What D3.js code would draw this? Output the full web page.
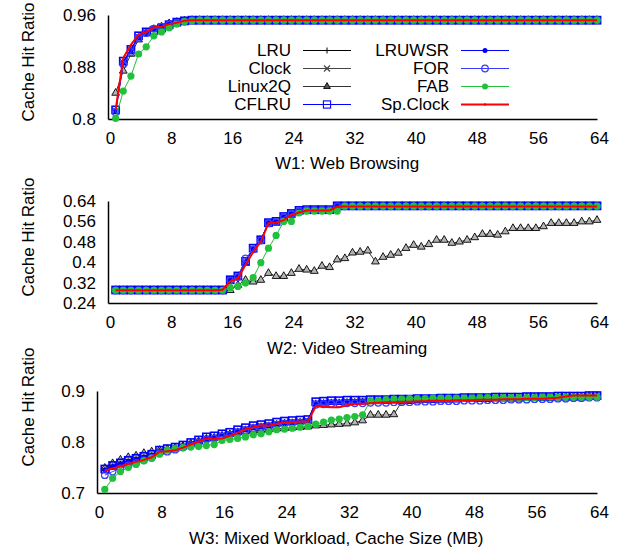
<!DOCTYPE html>
<html>
<head>
<meta charset="utf-8">
<script src="https://cdn.jsdelivr.net/npm/d3@7"></script>
<style>
  body { margin: 0; background: #fff; }
  text { font-family: "Liberation Sans", Arial, sans-serif; font-size: 17px; fill: #000; }
</style>
</head>
<body>
<div id="chart"></div>
<script>
// cache sizes (MB) on the x axis
const cacheSizes = [1,2,3,4,5,6,7,8,9,10,11,12,13,14,15,16,17,18,19,20,21,22,23,24,25,26,27,28,29,30,31,32,
  33,34,35,36,37,38,39,40,41,42,43,44,45,46,47,48,49,50,51,52,53,54,55,56,57,58,59,60,61,62,63,64];
const xTicks = [0, 8, 16, 24, 32, 40, 48, 56, 64];
const seriesNames = ["LRU", "Clock", "Linux2Q", "CFLRU", "LRUWSR", "FOR", "FAB", "Sp.Clock"];

// W1: Web Browsing
const w1Ticks = [0.8, 0.88, 0.96];
const w1LRU = [0.813,0.888,0.906,0.927,0.934,0.940,0.943,0.946,0.949,0.951,0.952,0.952,0.952,0.952,0.952,0.952,
  0.952,0.952,0.952,0.952,0.952,0.952,0.952,0.952,0.952,0.952,0.952,0.952,0.952,0.952,0.952,0.952,
  0.952,0.952,0.952,0.952,0.952,0.952,0.952,0.952,0.952,0.952,0.952,0.952,0.952,0.952,0.952,0.952,
  0.952,0.952,0.952,0.952,0.952,0.952,0.952,0.952,0.952,0.952,0.952,0.952,0.952,0.952,0.952,0.952];
const w1Clock = [0.812,0.887,0.905,0.926,0.933,0.939,0.943,0.946,0.949,0.951,0.952,0.952,0.952,0.952,0.952,0.952,
  0.952,0.952,0.952,0.952,0.952,0.952,0.952,0.952,0.952,0.952,0.952,0.952,0.952,0.952,0.952,0.952,
  0.952,0.952,0.952,0.952,0.952,0.952,0.952,0.952,0.952,0.952,0.952,0.952,0.952,0.952,0.952,0.952,
  0.952,0.952,0.952,0.952,0.952,0.952,0.952,0.952,0.952,0.952,0.952,0.952,0.952,0.952,0.952,0.952];
const w1Linux2Q = [0.840,0.874,0.900,0.922,0.932,0.938,0.942,0.947,0.949,0.951,0.952,0.952,0.952,0.952,0.952,0.952,
  0.952,0.952,0.952,0.952,0.952,0.952,0.952,0.952,0.952,0.952,0.952,0.952,0.952,0.952,0.952,0.952,
  0.952,0.952,0.952,0.952,0.952,0.952,0.952,0.952,0.952,0.952,0.952,0.952,0.952,0.952,0.952,0.952,
  0.952,0.952,0.952,0.952,0.952,0.952,0.952,0.952,0.952,0.952,0.952,0.952,0.952,0.952,0.952,0.952];
const w1CFLRU = [0.814,0.889,0.907,0.928,0.934,0.936,0.940,0.945,0.949,0.951,0.952,0.952,0.952,0.952,0.952,0.952,
  0.952,0.952,0.952,0.952,0.952,0.952,0.952,0.952,0.952,0.952,0.952,0.952,0.952,0.952,0.952,0.952,
  0.952,0.952,0.952,0.952,0.952,0.952,0.952,0.952,0.952,0.952,0.952,0.952,0.952,0.952,0.952,0.952,
  0.952,0.952,0.952,0.952,0.952,0.952,0.952,0.952,0.952,0.952,0.952,0.952,0.952,0.952,0.952,0.952];
const w1LRUWSR = [0.813,0.887,0.906,0.927,0.934,0.940,0.943,0.946,0.949,0.951,0.952,0.952,0.952,0.952,0.952,0.952,
  0.952,0.952,0.952,0.952,0.952,0.952,0.952,0.952,0.952,0.952,0.952,0.952,0.952,0.952,0.952,0.952,
  0.952,0.952,0.952,0.952,0.952,0.952,0.952,0.952,0.952,0.952,0.952,0.952,0.952,0.952,0.952,0.952,
  0.952,0.952,0.952,0.952,0.952,0.952,0.952,0.952,0.952,0.952,0.952,0.952,0.952,0.952,0.952,0.952];
const w1FOR = [0.810,0.884,0.903,0.925,0.932,0.939,0.942,0.945,0.948,0.950,0.952,0.952,0.952,0.952,0.952,0.952,
  0.952,0.952,0.952,0.952,0.952,0.952,0.952,0.952,0.952,0.952,0.952,0.952,0.952,0.952,0.952,0.952,
  0.952,0.952,0.952,0.952,0.952,0.952,0.952,0.952,0.952,0.952,0.952,0.952,0.952,0.952,0.952,0.952,
  0.952,0.952,0.952,0.952,0.952,0.952,0.952,0.952,0.952,0.952,0.952,0.952,0.952,0.952,0.952,0.952];
const w1FAB = [0.801,0.843,0.866,0.900,0.911,0.928,0.934,0.940,0.946,0.950,0.951,0.952,0.952,0.952,0.952,0.952,
  0.952,0.952,0.952,0.952,0.952,0.952,0.952,0.952,0.952,0.952,0.952,0.952,0.952,0.952,0.952,0.952,
  0.952,0.952,0.952,0.952,0.952,0.952,0.952,0.952,0.952,0.952,0.952,0.952,0.952,0.952,0.952,0.952,
  0.952,0.952,0.952,0.952,0.952,0.952,0.952,0.952,0.952,0.952,0.952,0.952,0.952,0.952,0.952,0.952];
const w1SpClock = [0.814,0.894,0.914,0.930,0.934,0.941,0.942,0.946,0.948,0.951,0.952,0.952,0.952,0.952,0.952,0.952,
  0.952,0.952,0.952,0.952,0.952,0.952,0.952,0.952,0.952,0.952,0.952,0.952,0.952,0.952,0.952,0.952,
  0.952,0.952,0.952,0.952,0.952,0.952,0.952,0.952,0.952,0.952,0.952,0.952,0.952,0.952,0.952,0.952,
  0.952,0.952,0.952,0.952,0.952,0.952,0.952,0.952,0.952,0.952,0.952,0.952,0.952,0.952,0.952,0.952];

// W2: Video Streaming
const w2Ticks = [0.24, 0.32, 0.4, 0.48, 0.56, 0.64];
const w2LRU = [0.290,0.290,0.290,0.290,0.290,0.290,0.290,0.290,0.290,0.290,0.290,0.290,0.290,0.290,0.290,0.330,
  0.344,0.402,0.454,0.487,0.554,0.559,0.578,0.590,0.602,0.605,0.605,0.605,0.605,0.620,0.620,0.620,
  0.620,0.620,0.620,0.620,0.620,0.620,0.620,0.620,0.620,0.620,0.620,0.620,0.620,0.620,0.620,0.620,
  0.620,0.620,0.620,0.620,0.620,0.620,0.620,0.620,0.620,0.620,0.620,0.620,0.620,0.620,0.620,0.620];
const w2Clock = [0.290,0.290,0.290,0.290,0.290,0.290,0.290,0.290,0.290,0.290,0.290,0.290,0.290,0.290,0.290,0.329,
  0.343,0.400,0.452,0.486,0.553,0.558,0.577,0.590,0.601,0.605,0.605,0.605,0.605,0.620,0.620,0.620,
  0.620,0.620,0.620,0.620,0.620,0.620,0.620,0.620,0.620,0.620,0.620,0.620,0.620,0.620,0.620,0.620,
  0.620,0.620,0.620,0.620,0.620,0.620,0.620,0.620,0.620,0.620,0.620,0.620,0.620,0.620,0.620,0.620];
const w2Linux2Q = [0.290,0.290,0.290,0.290,0.290,0.290,0.290,0.290,0.290,0.290,0.290,0.290,0.290,0.290,0.290,0.290,
  0.310,0.330,0.323,0.330,0.357,0.345,0.345,0.357,0.373,0.370,0.365,0.385,0.380,0.410,0.415,0.437,
  0.440,0.445,0.402,0.420,0.428,0.436,0.455,0.467,0.460,0.470,0.487,0.487,0.475,0.480,0.487,0.497,
  0.510,0.510,0.507,0.520,0.533,0.533,0.533,0.533,0.540,0.553,0.553,0.553,0.553,0.559,0.559,0.565];
const w2CFLRU = [0.291,0.291,0.291,0.291,0.291,0.291,0.291,0.291,0.291,0.291,0.291,0.291,0.291,0.291,0.291,0.331,
  0.346,0.403,0.455,0.488,0.555,0.560,0.579,0.591,0.603,0.606,0.606,0.606,0.606,0.621,0.621,0.621,
  0.621,0.621,0.621,0.621,0.621,0.621,0.621,0.621,0.621,0.621,0.621,0.621,0.621,0.621,0.621,0.621,
  0.621,0.621,0.621,0.621,0.621,0.621,0.621,0.621,0.621,0.621,0.621,0.621,0.621,0.621,0.621,0.621];
const w2LRUWSR = [0.290,0.290,0.290,0.290,0.290,0.290,0.290,0.290,0.290,0.290,0.290,0.290,0.290,0.290,0.290,0.330,
  0.344,0.401,0.453,0.487,0.554,0.559,0.578,0.590,0.602,0.605,0.605,0.605,0.605,0.620,0.620,0.620,
  0.620,0.620,0.620,0.620,0.620,0.620,0.620,0.620,0.620,0.620,0.620,0.620,0.620,0.620,0.620,0.620,
  0.620,0.620,0.620,0.620,0.620,0.620,0.620,0.620,0.620,0.620,0.620,0.620,0.620,0.620,0.620,0.620];
const w2FOR = [0.289,0.289,0.289,0.289,0.289,0.289,0.289,0.289,0.289,0.289,0.289,0.289,0.289,0.289,0.289,0.328,
  0.342,0.415,0.450,0.485,0.552,0.557,0.576,0.589,0.600,0.604,0.604,0.604,0.604,0.619,0.619,0.619,
  0.619,0.619,0.619,0.619,0.619,0.619,0.619,0.619,0.619,0.619,0.619,0.619,0.619,0.619,0.619,0.619,
  0.619,0.619,0.619,0.619,0.619,0.619,0.619,0.619,0.619,0.619,0.619,0.619,0.619,0.619,0.619,0.619];
const w2FAB = [0.290,0.290,0.290,0.290,0.290,0.290,0.290,0.290,0.290,0.290,0.290,0.290,0.290,0.290,0.290,0.300,
  0.305,0.318,0.340,0.398,0.455,0.505,0.560,0.560,0.593,0.600,0.600,0.600,0.600,0.600,0.620,0.620,
  0.620,0.620,0.620,0.620,0.620,0.620,0.620,0.620,0.620,0.620,0.620,0.620,0.620,0.620,0.620,0.620,
  0.620,0.620,0.620,0.620,0.620,0.620,0.620,0.620,0.620,0.620,0.620,0.620,0.620,0.620,0.620,0.620];
const w2SpClock = [0.290,0.290,0.290,0.290,0.290,0.290,0.290,0.290,0.290,0.290,0.290,0.290,0.290,0.290,0.292,0.325,
  0.335,0.390,0.440,0.480,0.553,0.555,0.565,0.585,0.595,0.603,0.603,0.603,0.603,0.618,0.618,0.618,
  0.618,0.618,0.618,0.618,0.618,0.618,0.618,0.618,0.618,0.618,0.618,0.618,0.618,0.618,0.618,0.618,
  0.618,0.618,0.618,0.618,0.618,0.618,0.618,0.618,0.618,0.618,0.618,0.618,0.618,0.618,0.618,0.618];

// W3: Mixed Workload
const w3Ticks = [0.7, 0.8, 0.9];
const w3LRU = [0.745,0.752,0.757,0.762,0.766,0.770,0.774,0.782,0.785,0.788,0.792,0.797,0.802,0.808,0.810,0.814,
  0.817,0.822,0.826,0.830,0.832,0.834,0.837,0.839,0.840,0.841,0.842,0.877,0.878,0.879,0.879,0.880,
  0.880,0.881,0.881,0.882,0.882,0.882,0.883,0.883,0.883,0.884,0.884,0.884,0.885,0.885,0.885,0.886,
  0.886,0.886,0.887,0.887,0.887,0.887,0.888,0.888,0.888,0.888,0.889,0.889,0.889,0.889,0.890,0.890];
const w3Clock = [0.744,0.751,0.756,0.761,0.765,0.769,0.773,0.781,0.784,0.787,0.791,0.796,0.801,0.807,0.809,0.813,
  0.816,0.821,0.825,0.829,0.831,0.833,0.836,0.838,0.839,0.840,0.841,0.876,0.877,0.878,0.878,0.879,
  0.879,0.880,0.880,0.881,0.881,0.881,0.882,0.882,0.882,0.883,0.883,0.883,0.884,0.884,0.884,0.885,
  0.885,0.885,0.886,0.886,0.886,0.886,0.887,0.887,0.887,0.887,0.888,0.888,0.888,0.888,0.889,0.889];
const w3Linux2Q = [0.749,0.758,0.765,0.770,0.773,0.778,0.781,0.784,0.786,0.789,0.792,0.797,0.801,0.806,0.808,0.812,
  0.815,0.818,0.820,0.822,0.823,0.825,0.826,0.827,0.828,0.829,0.830,0.832,0.833,0.834,0.835,0.836,
  0.838,0.842,0.853,0.853,0.853,0.854,0.879,0.880,0.881,0.882,0.882,0.883,0.883,0.884,0.884,0.885,
  0.885,0.885,0.886,0.886,0.886,0.887,0.887,0.887,0.888,0.888,0.888,0.889,0.889,0.889,0.890,0.890];
const w3CFLRU = [0.747,0.754,0.759,0.764,0.768,0.772,0.776,0.784,0.787,0.790,0.794,0.799,0.804,0.810,0.812,0.816,
  0.819,0.824,0.828,0.832,0.834,0.836,0.839,0.841,0.842,0.843,0.844,0.879,0.880,0.881,0.881,0.882,
  0.882,0.882,0.883,0.883,0.883,0.884,0.884,0.884,0.885,0.885,0.885,0.886,0.886,0.886,0.887,0.887,
  0.887,0.887,0.888,0.888,0.888,0.888,0.889,0.889,0.889,0.889,0.890,0.890,0.890,0.890,0.891,0.891];
const w3LRUWSR = [0.745,0.752,0.757,0.762,0.766,0.770,0.774,0.782,0.785,0.788,0.792,0.797,0.802,0.808,0.810,0.814,
  0.817,0.822,0.826,0.830,0.832,0.834,0.837,0.839,0.840,0.841,0.842,0.877,0.878,0.879,0.879,0.880,
  0.880,0.881,0.881,0.882,0.882,0.882,0.883,0.883,0.883,0.884,0.884,0.884,0.885,0.885,0.885,0.886,
  0.886,0.886,0.887,0.887,0.887,0.887,0.888,0.888,0.888,0.888,0.889,0.889,0.889,0.889,0.890,0.890];
const w3FOR = [0.735,0.742,0.748,0.754,0.759,0.764,0.769,0.778,0.781,0.785,0.789,0.794,0.799,0.805,0.807,0.811,
  0.814,0.819,0.823,0.827,0.829,0.831,0.834,0.836,0.837,0.838,0.839,0.873,0.874,0.875,0.875,0.876,
  0.876,0.876,0.877,0.877,0.877,0.878,0.878,0.878,0.879,0.879,0.879,0.880,0.880,0.880,0.881,0.881,
  0.881,0.882,0.882,0.882,0.883,0.883,0.883,0.884,0.884,0.884,0.885,0.885,0.886,0.886,0.887,0.887];
const w3FAB = [0.707,0.729,0.742,0.750,0.756,0.763,0.768,0.776,0.784,0.787,0.789,0.790,0.791,0.793,0.795,0.803,
  0.805,0.807,0.810,0.814,0.816,0.820,0.824,0.825,0.827,0.829,0.831,0.835,0.839,0.843,0.845,0.848,
  0.850,0.853,0.881,0.881,0.883,0.884,0.884,0.885,0.885,0.885,0.886,0.886,0.886,0.886,0.886,0.886,
  0.887,0.887,0.887,0.887,0.887,0.887,0.887,0.887,0.888,0.888,0.888,0.888,0.888,0.888,0.888,0.888];
const w3SpClock = [0.744,0.748,0.752,0.757,0.761,0.765,0.770,0.781,0.782,0.784,0.789,0.795,0.801,0.807,0.806,0.807,
  0.812,0.818,0.825,0.829,0.833,0.832,0.836,0.838,0.839,0.840,0.840,0.870,0.869,0.868,0.868,0.872,
  0.874,0.875,0.876,0.877,0.878,0.878,0.879,0.879,0.880,0.880,0.881,0.881,0.881,0.882,0.882,0.882,
  0.883,0.883,0.883,0.884,0.884,0.884,0.885,0.885,0.885,0.886,0.887,0.889,0.891,0.891,0.891,0.891];

const panels = [
  { title: "W1: Web Browsing", titleX: 275, titleY: 169, ticks: w1Ticks, yLabelY: 62,
    left: 108, top: 15, bottom: 119,
    values: { "LRU": w1LRU, "Clock": w1Clock, "Linux2Q": w1Linux2Q, "CFLRU": w1CFLRU,
              "LRUWSR": w1LRUWSR, "FOR": w1FOR, "FAB": w1FAB, "Sp.Clock": w1SpClock } },
  { title: "W2: Video Streaming", titleX: 267, titleY: 354, ticks: w2Ticks, yLabelY: 237,
    left: 108, top: 201, bottom: 303,
    values: { "LRU": w2LRU, "Clock": w2Clock, "Linux2Q": w2Linux2Q, "CFLRU": w2CFLRU,
              "LRUWSR": w2LRUWSR, "FOR": w2FOR, "FAB": w2FAB, "Sp.Clock": w2SpClock } },
  { title: "W3: Mixed Workload, Cache Size (MB)", titleX: 189, titleY: 544, ticks: w3Ticks, yLabelY: 407,
    left: 97, top: 391, bottom: 493,
    values: { "LRU": w3LRU, "Clock": w3Clock, "Linux2Q": w3Linux2Q, "CFLRU": w3CFLRU,
              "LRUWSR": w3LRUWSR, "FOR": w3FOR, "FAB": w3FAB, "Sp.Clock": w3SpClock } }
];

const styles = {
  "LRU":      { color: "#000000", marker: "plus" },
  "Clock":    { color: "#444444", marker: "cross" },
  "Linux2Q":  { color: "#333333", marker: "triangle" },
  "CFLRU":    { color: "#0000ff", marker: "square" },
  "LRUWSR":   { color: "#0000ff", marker: "dot" },
  "FOR":      { color: "#3c3cff", marker: "circle" },
  "FAB":      { color: "#22c03c", marker: "bigdot" },
  "Sp.Clock": { color: "#ff0000", marker: "none", width: 2 }
};
const drawOrder = ["Linux2Q", "LRU", "Clock", "CFLRU", "LRUWSR", "FOR", "FAB", "Sp.Clock"];

const W = 625, H = 552, right = 597;

const svg = d3.select("#chart").append("svg")
  .attr("width", W).attr("height", H);

function drawMarker(g, type, color, legend) {
  if (type === "plus") {
    g.append("path").attr("d", "M0,-3V3M-3,0H3").attr("stroke", color).attr("stroke-width", 1);
  } else if (type === "cross") {
    g.append("path").attr("d", "M-3,-3L3,3M-3,3L3,-3").attr("stroke", color).attr("stroke-width", 1.2);
  } else if (type === "triangle") {
    g.append("path").attr("d", d3.symbol(d3.symbolTriangle, legend ? 20 : 26)())
      .attr("fill", legend ? "#555" : "#b4b4b4").attr("stroke", "#000").attr("stroke-width", 0.9);
  } else if (type === "square") {
    g.append("rect").attr("x", -3.6).attr("y", -3.6).attr("width", 7.2).attr("height", 7.2)
      .attr("fill", "none").attr("stroke", color).attr("stroke-width", legend ? 1.1 : 1.6);
  } else if (type === "dot") {
    g.append("circle").attr("r", 2.5).attr("fill", color);
  } else if (type === "circle") {
    g.append("circle").attr("r", 3.3).attr("fill", "none").attr("stroke", color).attr("stroke-width", 1.2);
  } else if (type === "bigdot") {
    g.append("circle").attr("r", legend ? 3 : 3.6).attr("fill", color);
  }
}

panels.forEach(p => {
  const x = d3.scaleLinear().domain([0, 64]).range([p.left, right]);
  const y = d3.scaleLinear().domain([p.ticks[0], p.ticks[p.ticks.length - 1]]).range([p.bottom, p.top]);

  const xAxis = svg.append("g")
    .attr("transform", `translate(0, ${p.bottom})`)
    .call(d3.axisBottom(x).tickValues(xTicks).tickSize(0).tickPadding(13).tickFormat(d3.format("d")));
  xAxis.selectAll("text").attr("dx", 2).style("font-size", "17px");
  xAxis.select(".domain").attr("stroke", "#000").attr("stroke-width", 1.5);

  const yAxis = svg.append("g")
    .attr("transform", `translate(${p.left}, 0)`)
    .call(d3.axisLeft(y).tickValues(p.ticks).tickSize(0).tickPadding(12).tickFormat(d => String(d)));
  yAxis.selectAll("text").style("font-size", "17px");
  yAxis.select(".domain").attr("stroke", "#000").attr("stroke-width", 1.5);

  svg.append("text")
    .attr("transform", `translate(28, ${p.yLabelY}) rotate(-90)`)
    .attr("text-anchor", "middle").attr("dy", "0.35em")
    .text("Cache Hit Ratio");

  svg.append("text")
    .attr("x", p.titleX).attr("y", p.titleY)
    .text(p.title);

  drawOrder.forEach(name => {
    const st = styles[name];
    const vals = p.values[name];
    const pts = cacheSizes.map((c, i) => [c, vals[i]]);
    svg.append("path")
      .datum(pts)
      .attr("fill", "none")
      .attr("stroke", st.color)
      .attr("stroke-width", st.width || 1)
      .attr("d", d3.line().x(d => x(d[0])).y(d => y(d[1])));
    if (st.marker !== "none") {
      const mg = svg.append("g");
      pts.forEach(d => {
        drawMarker(mg.append("g").attr("transform", `translate(${x(d[0])}, ${y(d[1])})`), st.marker, st.color, false);
      });
    }
  });
});

// legend inside the first panel
const legendRows = [50.5, 68.5, 86.5, 104.5];
seriesNames.forEach((name, i) => {
  const col = Math.floor(i / 4), row = i % 4;
  const textX = col === 0 ? 291 : 449;
  const lineX0 = col === 0 ? 303 : 461;
  const ly = legendRows[row];
  const st = styles[name];
  svg.append("text").attr("x", textX).attr("y", ly).attr("dy", "0.35em")
    .attr("text-anchor", "end").text(name);
  svg.append("line").attr("x1", lineX0).attr("x2", lineX0 + 48).attr("y1", ly).attr("y2", ly)
    .attr("stroke", st.color).attr("stroke-width", st.width || 1);
  const mg = svg.append("g").attr("transform", `translate(${lineX0 + 24}, ${ly})`);
  if (name === "Sp.Clock") {
    mg.append("path").attr("d", "M0,-1.5V1.5").attr("stroke", "#c00").attr("stroke-width", 1);
  } else {
    drawMarker(mg, st.marker, st.color, true);
  }
});
</script>
</body>
</html>
